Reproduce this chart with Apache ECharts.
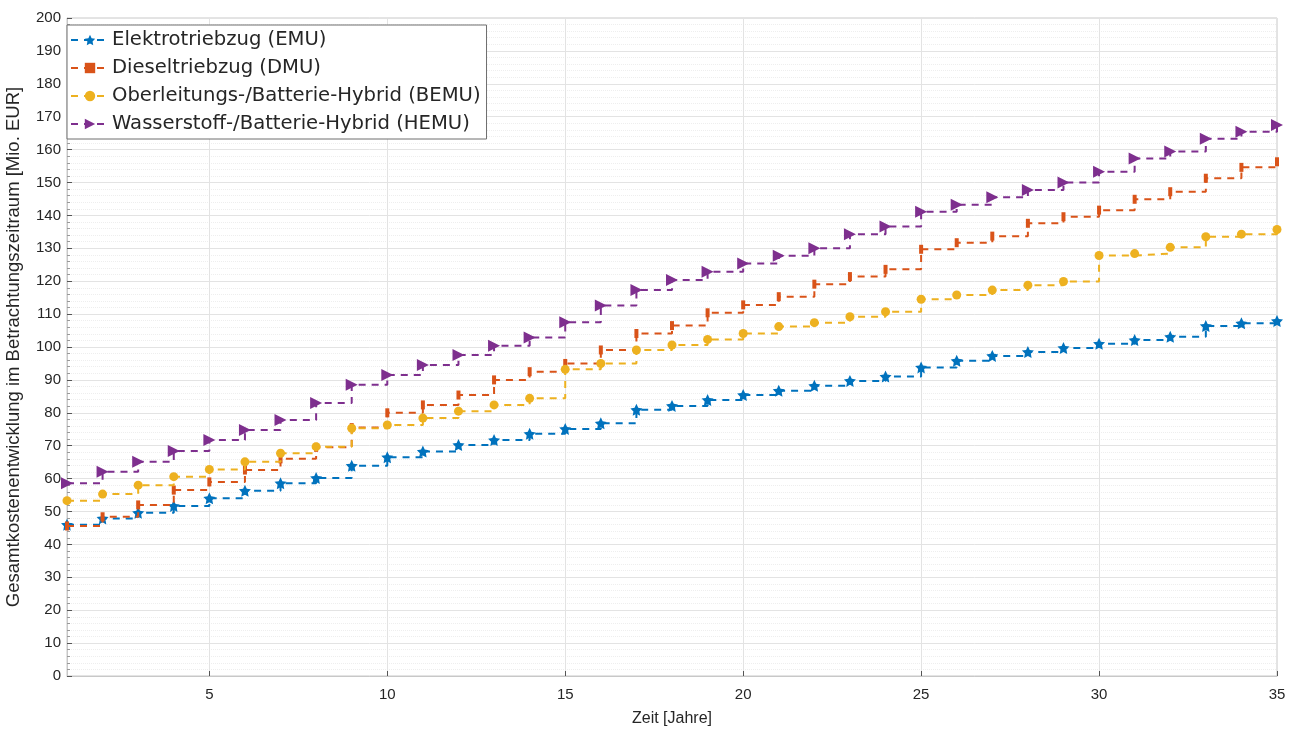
<!DOCTYPE html>
<html>
<head>
<meta charset="utf-8">
<script src="https://cdn.jsdelivr.net/npm/echarts@6/dist/echarts.min.js"></script>
<style>html,body{margin:0;padding:0;background:#fff}#c{width:1296px;height:729px}</style>
</head>
<body>
<div id="c"></div>
<script>
const years = Array.from({length: 35}, (_, i) => i + 1);
const xTickLabels = [5, 10, 15, 20, 25, 30, 35];
const seriesNames = ['Elektrotriebzug (EMU)', 'Dieseltriebzug (DMU)', 'Oberleitungs-/Batterie-Hybrid (BEMU)', 'Wasserstoff-/Batterie-Hybrid (HEMU)'];
const emu = [46, 47.9, 49.6, 51.7, 54, 56.3, 58.6, 60.2, 63.9, 66.5, 68.2, 70.2, 71.7, 73.6, 75.1, 76.8, 80.9, 82.1, 83.9, 85.4, 86.7, 88.2, 89.7, 91, 93.8, 95.8, 97.3, 98.5, 99.7, 101, 102.1, 103.1, 106.4, 107.2, 107.9];
const dmu = [45.6, 48.4, 52, 56.5, 59, 62.6, 66, 69.5, 75.5, 80, 82.4, 85.4, 90, 92.5, 95, 99.1, 104.1, 106.5, 110.4, 112.8, 115.3, 119.1, 121.4, 123.6, 129.7, 131.7, 133.7, 137.6, 139.6, 141.6, 144.9, 147.2, 151.3, 154.6, 156.3];
const bemu = [53.3, 55.3, 58, 60.6, 62.8, 65.1, 67.7, 69.7, 75.3, 76.3, 78.4, 80.5, 82.4, 84.4, 93.2, 95, 99.1, 100.6, 102.3, 104.1, 106.2, 107.4, 109.2, 110.7, 114.5, 115.8, 117.3, 118.8, 119.9, 127.8, 128.4, 130.3, 133.5, 134.3, 135.7];
const hemu = [58.6, 62.1, 65.1, 68.4, 71.7, 74.8, 77.8, 83, 88.5, 91.5, 94.5, 97.6, 100.4, 102.9, 107.5, 112.6, 117.3, 120.4, 122.9, 125.4, 127.7, 130, 134.3, 136.6, 141.1, 143.2, 145.5, 147.7, 150, 153.3, 157.3, 159.4, 163.3, 165.4, 167.5];

const colors = ['#0072BD', '#D95319', '#EDB120', '#7E2F8E'];
const star = 'path://M0,-10 L2.9,-4 9.5,-3.1 4.7,1.5 5.9,8.1 0,5 -5.9,8.1 -4.7,1.5 -9.5,-3.1 -2.9,-4Z';
const symbols = [star, 'rect', 'circle', 'triangle'];
const symSizes = [12, [4, 9], 9, 12];
const symRot = [0, 0, 0, -90];
const allData = [emu, dmu, bemu, hemu];

const chart = echarts.init(document.getElementById('c'));
const txt = '#262626';
const ff = 'Liberation Sans, Arial, sans-serif';
chart.setOption({
  animation: false,
  color: colors,
  grid: {left: 67, right: 19, top: 18, bottom: 53, show: true, borderColor: '#c8c8c8', borderWidth: 1, outerBoundsMode: 'none', containLabel: false},
  legend: {
    orient: 'vertical', left: 67, top: 25,
    backgroundColor: '#fff', borderColor: '#6e6e6e', borderWidth: 1,
    padding: [5, 6, 5, 3], itemGap: 8, itemWidth: 38, itemHeight: 13,
    textStyle: {fontFamily: 'DejaVu Sans, sans-serif', fontSize: 19.6, color: txt, padding: [0, 0, 0, -2]},
    data: seriesNames
  },
  xAxis: {
    type: 'value', min: 1, max: 35,
    name: 'Zeit [Jahre]', nameLocation: 'middle', nameGap: 35,
    nameTextStyle: {fontFamily: ff, fontSize: 16, color: txt},
    axisLine: {show: true, onZero: false, lineStyle: {color: '#c8c8c8'}},
    axisTick: {show: true, inside: true, length: 5, customValues: xTickLabels, lineStyle: {color: '#555'}},
    axisLabel: {customValues: xTickLabels, fontFamily: ff, fontSize: 15, color: txt, margin: 11},
    splitLine: {show: true, lineStyle: {color: '#e3e3e3', width: 1}},
    minorTick: {show: false},
    minorSplitLine: {show: false}
  },
  yAxis: {
    type: 'value', min: 0, max: 200, interval: 10,
    name: 'Gesamtkostenentwicklung im Betrachtungszeitraum [Mio. EUR]', nameLocation: 'middle', nameGap: 44,
    nameTextStyle: {fontFamily: ff, fontSize: 18.5, color: txt},
    axisLine: {show: true, lineStyle: {color: '#c8c8c8'}},
    axisTick: {show: true, inside: true, length: 5, lineStyle: {color: '#555'}},
    axisLabel: {fontFamily: ff, fontSize: 15, color: txt, margin: 6},
    splitLine: {show: true, lineStyle: {color: '#e3e3e3', width: 1}},
    minorTick: {show: true, splitNumber: 5, length: 3, lineStyle: {color: '#999'}},
    minorSplitLine: {show: true, lineStyle: {color: '#eeeeee', type: 'dotted', width: 1}}
  },
  series: seriesNames.map((n, i) => ({
    name: n, type: 'line', step: 'end',
    data: years.map((x, j) => [x, allData[i][j]]),
    symbol: symbols[i], symbolSize: symSizes[i], symbolRotate: symRot[i],
    showSymbol: true,
    itemStyle: {color: colors[i]},
    lineStyle: {color: colors[i], width: 2, type: [7, 6]},
    z: 2 + i
  }))
});
</script>
</body>
</html>
